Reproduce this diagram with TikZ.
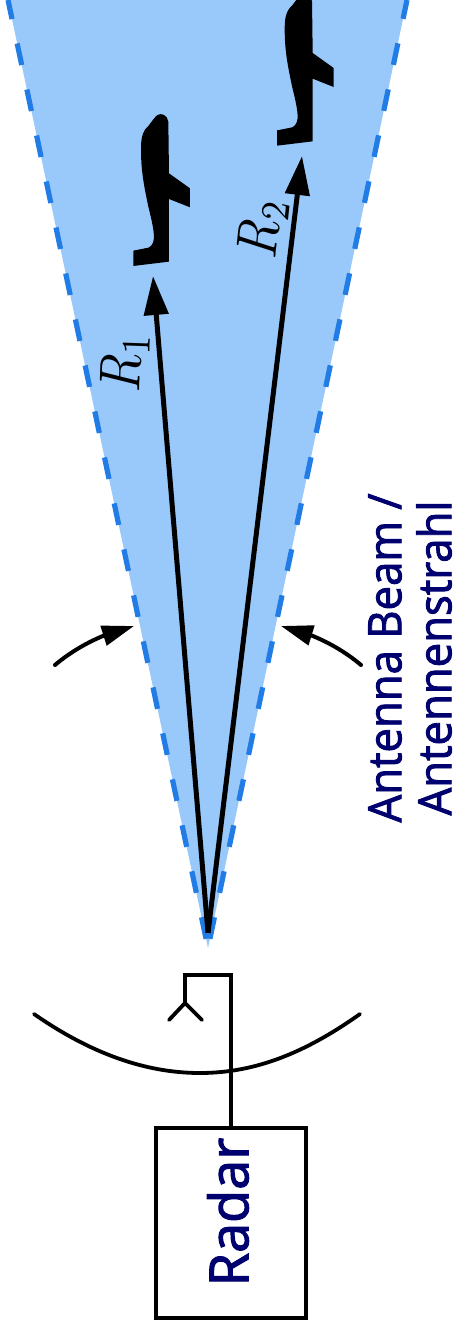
\documentclass[tikz,border=0pt]{standalone}
\usepackage{fontspec}
\setmainfont{Open Sans}
\newfontfamily\heavylabel{Open Sans}[FakeBold=2.0]
\usetikzlibrary{arrows.meta,bending}
\definecolor{beamfill}{RGB}{153,201,250}
\definecolor{beamdash}{RGB}{34,124,230}
\definecolor{labelnavy}{RGB}{0,0,110}
\tikzset{
  beamedge/.style={draw=beamdash,line width=5.2pt,dash pattern=on 22pt off 25pt,dash phase=37.6pt},
  rangearrow/.style={draw=black,line width=5pt,-{Triangle[length=39pt,width=24pt]}},
  widtharrow/.style={draw=black,line width=4pt,line cap=round,-{Triangle[length=32pt,width=20pt,flex]}},
  wire/.style={draw=black,line width=4.6pt,line cap=round},
  radarbox/.style={draw=black,line width=4.6pt,minimum width=150pt,minimum height=190pt,inner sep=0pt},
  bluetext/.style={text=labelnavy,rotate=90,inner sep=0pt,align=center},
  rangetext/.style={text=black,inner sep=0pt},
}
\newcommand{\planeshape}{%
  (267,520) -- (265,365) .. controls (262,345) and (245,338) .. (232,345)
  .. controls (225,350) and (215,365) .. (205,378)
  .. controls (185,395) and (183,420) .. (183,450)
  .. controls (183,520) and (195,570) .. (205,620)
  .. controls (215,660) and (222,690) .. (222,715)
  .. controls (220,735) and (210,745) .. (195,745)
  -- (160,752) -- (160,798) -- (267,785) -- (267,597) -- (330,622) -- (330,565) -- cycle}
\begin{document}
\begin{tikzpicture}[x=1pt,y=-1pt]
\useasboundingbox (0,0) rectangle (456,1331);
\clip (0,0) rectangle (456,1331);
% beam
\coordinate (apex) at (208,948);
\coordinate (source) at (208,933);
\coordinate (ltop) at (8,0);
\coordinate (rtop) at (407,0);
\fill[beamfill] (apex) -- (ltop) -- (rtop) -- cycle;
\path[beamedge] (apex) -- (ltop);
\path[beamedge] (apex) -- (rtop);
% aircraft
\begin{scope}[shift={(80,0)},x=0.3333pt,y=-0.3333pt]
\fill[black] \planeshape;
\end{scope}
\begin{scope}[shift={(223.7,-120.3)},x=0.3333pt,y=-0.3333pt]
\fill[black] \planeshape;
\end{scope}
% ranges
\coordinate (tipone) at (153,276);
\coordinate (tiptwo) at (302,156);
\path[rangearrow] (source) -- (tipone);
\path[rangearrow] (source) -- (tiptwo);
\node[rangetext,rotate=88] (rone) at (125,362) {\scalebox{4.9}[5.8]{$R_1$}};
\node[rangetext,rotate=84] (rtwo) at (263,228) {\scalebox{4.9}[5.8]{$R_2$}};
% beam width arrows
\coordinate (wla) at (55,665);
\coordinate (wlb) at (134,626);
\coordinate (wra) at (361,665);
\coordinate (wrb) at (281,626);
\path[widtharrow] (wla) .. controls (75,648) and (103,633) .. (wlb);
\path[widtharrow] (wra) .. controls (341,648) and (313,633) .. (wrb);
% radar
\node[radarbox] (radar) at (231,1223) {};
\coordinate (feedtr) at (231,975);
\coordinate (feedtl) at (185,975);
\coordinate (feedj) at (185,1003);
\coordinate (feedl) at (169,1020);
\coordinate (feedr) at (202,1020);
\draw[wire,line join=miter] (radar.north) -- (feedtr) -- (feedtl) -- (feedj);
\draw[wire,line width=3.8pt] (feedl) -- (feedj) -- (feedr);
\coordinate (disha) at (34,1014);
\coordinate (dishb) at (360,1014);
\draw[wire,line width=3.8pt] (disha) .. controls (90,1053) and (145,1073) .. (200,1073) .. controls (255,1073) and (305,1053) .. (dishb);
% labels
\node[bluetext,font=\heavylabel\fontsize{54}{54}\selectfont,xscale=1.0] (radarlabel) at (228,1212) {Radar};
\node[bluetext,font=\heavylabel\fontsize{46}{50}\selectfont,xscale=.95] (beamlabel) at (410,658) {Antenna Beam /\\Antennenstrahl};
\end{tikzpicture}
\end{document}
